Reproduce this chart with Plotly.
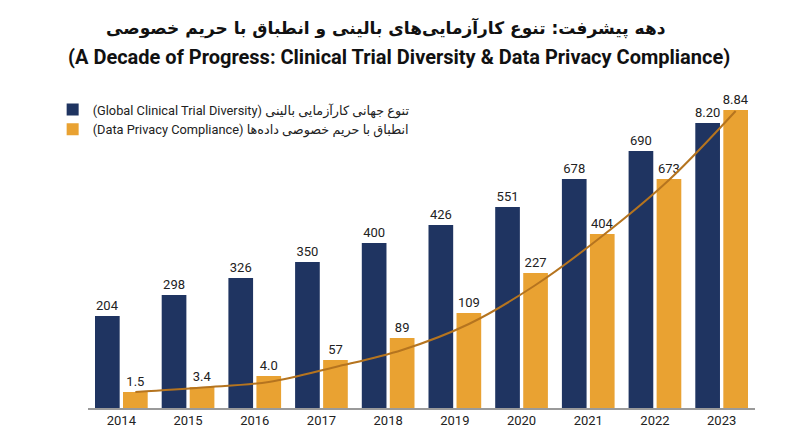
import plotly.graph_objects as go

years = [2014, 2015, 2016, 2017, 2018, 2019, 2020, 2021, 2022, 2023]

# bar heights as drawn (index units), labels as printed above each bar
diversity_height = [92, 113, 130, 146, 165, 183, 201, 229, 257, 285]
diversity_labels = ["204", "298", "326", "350", "400", "426", "551", "678", "690", "8.20"]

privacy_height = [16, 21, 32, 48, 70, 95, 135, 174, 229, 298]
privacy_labels = ["1.5", "3.4", "4.0", "57", "89", "109", "227", "404", "673", "8.84"]

# smooth trend over the privacy series
trend_height = [16, 20.5, 26, 41, 58, 84, 123, 172, 228, 297]

title_fa = "دهه پیشرفت: تنوع کارآزمایی‌های بالینی و انطباق با حریم خصوصی"
title_en = "(A Decade of Progress: Clinical Trial Diversity &amp; Data Privacy Compliance)"

navy = "#1f3461"
orange = "#e9a232"
trend_color = "#b5741f"
font_main = "Roboto, 'DejaVu Sans', sans-serif"

fig = go.Figure()

fig.add_trace(go.Bar(
    x=years,
    y=diversity_height,
    name="(Global Clinical Trial Diversity) تنوع جهانی کارآزمایی بالینی",
    marker=dict(color=navy, line=dict(width=0)),
    width=0.37,
    offset=-0.395,
    text=diversity_labels,
    textposition="outside",
    constraintext="none",
    cliponaxis=False,
    textfont=dict(size=13, color="#222222", family=font_main),
    hoverinfo="skip"
))

fig.add_trace(go.Bar(
    x=years,
    y=privacy_height,
    name="(Data Privacy Compliance) انطباق با حریم خصوصی داده‌ها",
    marker=dict(color=orange, line=dict(width=0)),
    width=0.37,
    offset=0.025,
    text=privacy_labels,
    textposition="outside",
    constraintext="none",
    cliponaxis=False,
    textfont=dict(size=13, color="#222222", family=font_main),
    hoverinfo="skip"
))

fig.add_trace(go.Scatter(
    x=[y + 0.21 for y in years],
    y=trend_height,
    mode="lines",
    line=dict(color=trend_color, width=2, shape="spline"),
    showlegend=False,
    hoverinfo="skip"
))

# page body adds an 8px offset, so the figure is drawn 8px smaller
fig.update_layout(
    width=792,
    height=439,
    barmode="overlay",
    plot_bgcolor="white",
    paper_bgcolor="white",
    font=dict(family=font_main, color="#222222"),
    legend=dict(
        x=-0.053,
        y=1.017,
        xanchor="left",
        yanchor="top",
        font=dict(size=12.8, color="#222222", family=font_main),
        bgcolor="rgba(0,0,0,0)",
        traceorder="normal"
    ),
    margin=dict(t=92, b=39, l=80, r=45, autoexpand=False),
    annotations=[
        dict(
            text="<b>" + title_fa + "</b>",
            x=0.447, y=1.234,
            xref="paper", yref="paper",
            xanchor="center", yanchor="middle",
            showarrow=False,
            font=dict(size=17, color="#111111", family="'DejaVu Sans', sans-serif")
        ),
        dict(
            text="<b>" + title_en + "</b>",
            x=0.467, y=1.14,
            xref="paper", yref="paper",
            xanchor="center", yanchor="middle",
            showarrow=False,
            font=dict(size=20, color="#111111", family=font_main)
        )
    ]
)

fig.update_xaxes(
    range=[2013.5, 2023.5],
    tickvals=years,
    ticktext=[str(y) for y in years],
    showgrid=False,
    zeroline=False,
    showline=True,
    linecolor="#9a9a9a",
    linewidth=1.5,
    ticks="",
    tickfont=dict(size=13, color="#222222")
)

fig.update_yaxes(
    range=[0, 308],
    showgrid=False,
    zeroline=False,
    showticklabels=False,
    showline=False
)

fig.write_html("out.html")
